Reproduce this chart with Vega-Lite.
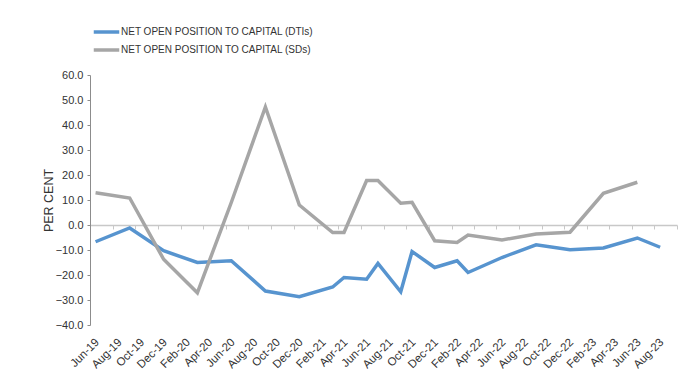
{
  "$schema": "https://vega.github.io/schema/vega-lite/v6.json",
  "width": 587,
  "height": 250,
  "autosize": {"type": "none"},
  "padding": {"left": 90, "top": 75, "right": 16, "bottom": 62},
  "background": "white",
  "config": {
    "view": {"stroke": null},
    "font": "Liberation Sans"
  },
  "data": {
    "values": [
      {"month": "2019-06-01", "series": "NET OPEN POSITION TO CAPITAL (DTIs)", "value": -6.7},
      {"month": "2019-09-01", "series": "NET OPEN POSITION TO CAPITAL (DTIs)", "value": -1.2},
      {"month": "2019-12-01", "series": "NET OPEN POSITION TO CAPITAL (DTIs)", "value": -10.3},
      {"month": "2020-03-01", "series": "NET OPEN POSITION TO CAPITAL (DTIs)", "value": -15.0},
      {"month": "2020-06-01", "series": "NET OPEN POSITION TO CAPITAL (DTIs)", "value": -14.3},
      {"month": "2020-09-01", "series": "NET OPEN POSITION TO CAPITAL (DTIs)", "value": -26.4},
      {"month": "2020-12-01", "series": "NET OPEN POSITION TO CAPITAL (DTIs)", "value": -28.7},
      {"month": "2021-03-01", "series": "NET OPEN POSITION TO CAPITAL (DTIs)", "value": -24.8},
      {"month": "2021-04-01", "series": "NET OPEN POSITION TO CAPITAL (DTIs)", "value": -21.0},
      {"month": "2021-06-01", "series": "NET OPEN POSITION TO CAPITAL (DTIs)", "value": -21.7},
      {"month": "2021-07-01", "series": "NET OPEN POSITION TO CAPITAL (DTIs)", "value": -15.4},
      {"month": "2021-09-01", "series": "NET OPEN POSITION TO CAPITAL (DTIs)", "value": -26.7},
      {"month": "2021-10-01", "series": "NET OPEN POSITION TO CAPITAL (DTIs)", "value": -10.6},
      {"month": "2021-12-01", "series": "NET OPEN POSITION TO CAPITAL (DTIs)", "value": -17.0},
      {"month": "2022-02-01", "series": "NET OPEN POSITION TO CAPITAL (DTIs)", "value": -14.3},
      {"month": "2022-03-01", "series": "NET OPEN POSITION TO CAPITAL (DTIs)", "value": -19.0},
      {"month": "2022-06-01", "series": "NET OPEN POSITION TO CAPITAL (DTIs)", "value": -13.0},
      {"month": "2022-09-01", "series": "NET OPEN POSITION TO CAPITAL (DTIs)", "value": -7.9},
      {"month": "2022-12-01", "series": "NET OPEN POSITION TO CAPITAL (DTIs)", "value": -9.9},
      {"month": "2023-03-01", "series": "NET OPEN POSITION TO CAPITAL (DTIs)", "value": -9.2},
      {"month": "2023-06-01", "series": "NET OPEN POSITION TO CAPITAL (DTIs)", "value": -5.2},
      {"month": "2023-08-01", "series": "NET OPEN POSITION TO CAPITAL (DTIs)", "value": -8.9},
      {"month": "2019-06-01", "series": "NET OPEN POSITION TO CAPITAL (SDs)", "value": 12.9},
      {"month": "2019-09-01", "series": "NET OPEN POSITION TO CAPITAL (SDs)", "value": 10.8},
      {"month": "2019-12-01", "series": "NET OPEN POSITION TO CAPITAL (SDs)", "value": -13.7},
      {"month": "2020-03-01", "series": "NET OPEN POSITION TO CAPITAL (SDs)", "value": -27.1},
      {"month": "2020-06-01", "series": "NET OPEN POSITION TO CAPITAL (SDs)", "value": 9.0},
      {"month": "2020-09-01", "series": "NET OPEN POSITION TO CAPITAL (SDs)", "value": 47.2},
      {"month": "2020-12-01", "series": "NET OPEN POSITION TO CAPITAL (SDs)", "value": 8.0},
      {"month": "2021-03-01", "series": "NET OPEN POSITION TO CAPITAL (SDs)", "value": -3.0},
      {"month": "2021-04-01", "series": "NET OPEN POSITION TO CAPITAL (SDs)", "value": -3.0},
      {"month": "2021-06-01", "series": "NET OPEN POSITION TO CAPITAL (SDs)", "value": 17.8},
      {"month": "2021-07-01", "series": "NET OPEN POSITION TO CAPITAL (SDs)", "value": 17.8},
      {"month": "2021-09-01", "series": "NET OPEN POSITION TO CAPITAL (SDs)", "value": 8.7},
      {"month": "2021-10-01", "series": "NET OPEN POSITION TO CAPITAL (SDs)", "value": 9.1},
      {"month": "2021-12-01", "series": "NET OPEN POSITION TO CAPITAL (SDs)", "value": -6.3},
      {"month": "2022-02-01", "series": "NET OPEN POSITION TO CAPITAL (SDs)", "value": -7.0},
      {"month": "2022-03-01", "series": "NET OPEN POSITION TO CAPITAL (SDs)", "value": -4.0},
      {"month": "2022-06-01", "series": "NET OPEN POSITION TO CAPITAL (SDs)", "value": -6.0},
      {"month": "2022-09-01", "series": "NET OPEN POSITION TO CAPITAL (SDs)", "value": -3.6},
      {"month": "2022-12-01", "series": "NET OPEN POSITION TO CAPITAL (SDs)", "value": -2.9},
      {"month": "2023-03-01", "series": "NET OPEN POSITION TO CAPITAL (SDs)", "value": 12.7},
      {"month": "2023-06-01", "series": "NET OPEN POSITION TO CAPITAL (SDs)", "value": 17.1}
    ]
  },
  "mark": {"type": "line", "strokeWidth": 3.5},
  "encoding": {
    "x": {
      "field": "month",
      "timeUnit": "utcyearmonth",
      "type": "temporal",
      "bandPosition": 0.5,
      "scale": {
        "type": "utc",
        "domain": [
          {"year": 2019, "month": 6, "date": 1, "utc": true},
          {"year": 2023, "month": 10, "date": 1, "utc": true}
        ]
      },
      "axis": {
        "title": null,
        "grid": false,
        "offset": -100,
        "values": [
          {"year": 2019, "month": 6, "date": 1, "utc": true},
          {"year": 2019, "month": 8, "date": 1, "utc": true},
          {"year": 2019, "month": 10, "date": 1, "utc": true},
          {"year": 2019, "month": 12, "date": 1, "utc": true},
          {"year": 2020, "month": 2, "date": 1, "utc": true},
          {"year": 2020, "month": 4, "date": 1, "utc": true},
          {"year": 2020, "month": 6, "date": 1, "utc": true},
          {"year": 2020, "month": 8, "date": 1, "utc": true},
          {"year": 2020, "month": 10, "date": 1, "utc": true},
          {"year": 2020, "month": 12, "date": 1, "utc": true},
          {"year": 2021, "month": 2, "date": 1, "utc": true},
          {"year": 2021, "month": 4, "date": 1, "utc": true},
          {"year": 2021, "month": 6, "date": 1, "utc": true},
          {"year": 2021, "month": 8, "date": 1, "utc": true},
          {"year": 2021, "month": 10, "date": 1, "utc": true},
          {"year": 2021, "month": 12, "date": 1, "utc": true},
          {"year": 2022, "month": 2, "date": 1, "utc": true},
          {"year": 2022, "month": 4, "date": 1, "utc": true},
          {"year": 2022, "month": 6, "date": 1, "utc": true},
          {"year": 2022, "month": 8, "date": 1, "utc": true},
          {"year": 2022, "month": 10, "date": 1, "utc": true},
          {"year": 2022, "month": 12, "date": 1, "utc": true},
          {"year": 2023, "month": 2, "date": 1, "utc": true},
          {"year": 2023, "month": 4, "date": 1, "utc": true},
          {"year": 2023, "month": 6, "date": 1, "utc": true},
          {"year": 2023, "month": 8, "date": 1, "utc": true},
          {"year": 2023, "month": 10, "date": 1, "utc": true}
        ],
        "labelExpr": "utcyear(datum.value) == 2023 && utcmonth(datum.value) == 9 ? '' : utcFormat(datum.value, '%b-%y')",
        "labelAngle": -45,
        "labelAlign": "right",
        "labelBaseline": "top",
        "labelOffset": 3,
        "labelPadding": 107,
        "labelFontSize": 11.5,
        "labelColor": "#333333",
        "labelOverlap": false,
        "labelFlush": false,
        "labelBound": false,
        "domainColor": "#c8c8c8",
        "domainWidth": 1.5,
        "tickColor": "#c8c8c8",
        "tickSize": 4,
        "tickWidth": 1
      }
    },
    "y": {
      "field": "value",
      "type": "quantitative",
      "scale": {"domain": [-40, 60], "nice": false, "zero": false},
      "axis": {
        "title": "PER CENT",
        "titleFontSize": 12.5,
        "titleFontWeight": "normal",
        "titleColor": "#333333",
        "titlePadding": 0,
        "grid": false,
        "values": [-40, -30, -20, -10, 0, 10, 20, 30, 40, 50, 60],
        "format": ".1f",
        "labelFontSize": 11,
        "labelColor": "#333333",
        "labelPadding": 4,
        "domainColor": "#8c8c8c",
        "tickColor": "#8c8c8c",
        "tickSize": 3
      }
    },
    "color": {
      "field": "series",
      "type": "nominal",
      "scale": {
        "domain": ["NET OPEN POSITION TO CAPITAL (DTIs)", "NET OPEN POSITION TO CAPITAL (SDs)"],
        "range": ["#5794cf", "#a6a6a6"]
      },
      "legend": {
        "title": null,
        "orient": "none",
        "legendX": 6,
        "legendY": -53.5,
        "symbolType": "M-1.5,0H1.5",
        "symbolSize": 289,
        "symbolStrokeWidth": 3.5,
        "symbolFillColor": "transparent",
        "labelOffset": 4,
        "rowPadding": 0,
        "padding": 0,
        "labelFont": "Liberation Sans",
        "labelFontSize": 10,
        "labelColor": "#333333",
        "labelLimit": 400
      }
    }
  }
}
